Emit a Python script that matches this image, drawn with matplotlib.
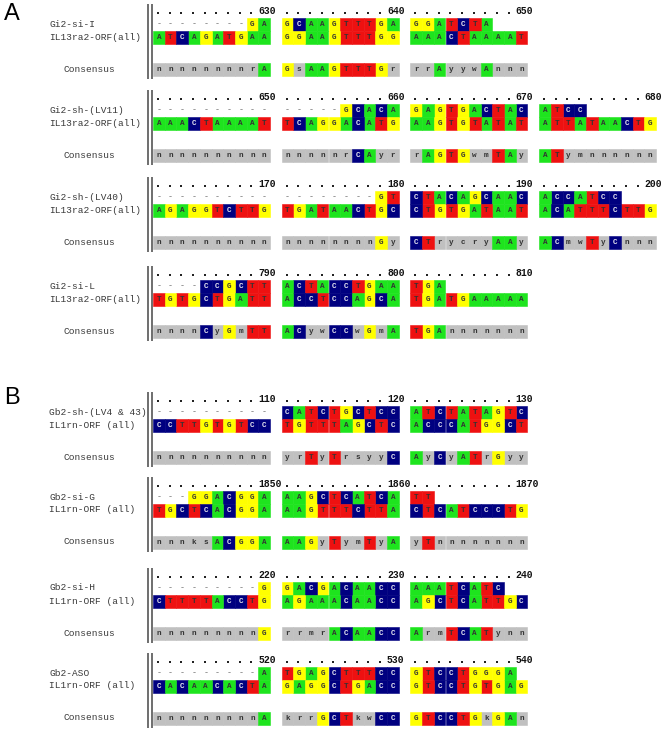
import matplotlib
matplotlib.use("Agg")
import matplotlib.pyplot as plt

# alignment data, groups of 10 columns separated by spaces
top_names = ["Gi2-si-I", "Gi2-sh-(LV11)", "Gi2-sh-(LV40)", "Gi2-si-L",
             "Gb2-sh-(LV4 & 43)", "Gb2-si-G", "Gb2-si-H", "Gb2-ASO"]
ref_names = ["IL13ra2-ORF(all)"] * 4 + ["IL1rn-ORF (all)"] * 4
ruler_ends = [[630, 640, 650], [650, 660, 670, 680], [170, 180, 190, 200], [790, 800, 810],
              [110, 120, 130], [1850, 1860, 1870], [220, 230, 240], [520, 530, 540]]
top_seqs = [
    "--------GA GCAAGTTTGA GGATCTA",
    "---------- -----GCACA GAGTGACTAC ATCC",
    "---------- --------GT CTACAGCAAC ACCATCC",
    "----CCGCTT ACTACCTGAA TGA",
    "---------- CATCTGCTCC ATCTATAGTC",
    "---GGACGGA AAGCTCATCA TT",
    "---------G GACGACAACC AAATCATC",
    "---------A TGAGCTTTCC GTCCTGGGA",
]
ref_seqs = [
    "ATCAGATGAA GGAAGTTTGG AAACTAAAAT",
    "AAACTAAAAT TCAGGACATG AAGTGTATAT ATTATAACTG",
    "AGAGGTCTTG TGATAACTGC CTGTGATAAT ACATTTCTTG",
    "TGTGCTGATT ACCTCCAGCA TGATGAAAAA",
    "CCTTGTGTCC TGTTTAGCTC ACCCATGGCT",
    "TGCTCACGGA AAGTTTCTTA CTCATCCCTG",
    "CTTTTACCTG AGAAACAACC AGCTCATTGC",
    "CACAACACTA GAGGCTGACC GTCCTGTGAG",
]
consensus = [
    "nnnnnnnnrA GsAAGTTTGr rrAyywAnnn",
    "nnnnnnnnnn nnnnnrCAyr rAGTGwmTAy ATymnnnnnn",
    "nnnnnnnnnn nnnnnnnnGy CTrycryAAy ACmwTyCnnn",
    "nnnnCyGmTT ACywCCwGmA TGAnnnnnnn",
    "nnnnnnnnnn yrTyTrsyyC AyCyATrGyy",
    "nnnksACGGA AAGyTymTyA yTnnnnnnnn",
    "nnnnnnnnnG rrmrACAACC ArmTCATynn",
    "nnnnnnnnnA krrGCTkwCC GTCCTGkGAn",
]
panel_letters = ["A", "B"]

base_colors = {"A": "#1ee41e", "C": "#000080", "G": "#ffff00", "T": "#ee1111"}
gray = "#c0c0c0"

W, H = 661, 735
X0, CW, ROW = 153, 11.7, 13
block_y = [12, 98, 185, 274, 400, 485, 576, 661]
panel_y = [14, 398]

fig = plt.figure(figsize=(W / 100, H / 100), dpi=100)
ax = fig.add_axes([0, 0, 1, 1])
ax.set_xlim(0, W)
ax.set_ylim(H, 0)
ax.axis("off")

mono = "Liberation Mono"

for letter, py in zip(panel_letters, panel_y):
    ax.text(4, py, letter, fontsize=17, family="Liberation Sans", va="center", ha="left")

for b in range(len(top_seqs)):
    y0 = block_y[b]
    # double bar at the left of each block
    for lx in (148, 151.5):
        ax.plot([lx, lx], [y0 - 8, y0 + 67], color="#555555", lw=1.2, solid_capstyle="butt")

    ax.text(49, y0 + 12, top_names[b], family=mono, fontsize=6.8, color="#3a3a3a", va="center")
    ax.text(49, y0 + 25, ref_names[b], family=mono, fontsize=6.8, color="#3a3a3a", va="center")
    ax.text(63, y0 + 57, "Consensus", family=mono, fontsize=6.8, color="#3a3a3a", va="center")

    # ruler
    dots_x = []
    for g, end in enumerate(ruler_ends[b]):
        for i in range(9):
            dots_x.append(X0 + (g * 11 + i) * CW + CW / 2 - 1)
        ax.text(X0 + (g * 11 + 9) * CW, y0 - 1, str(end), family=mono, fontsize=7,
                weight="bold", va="center", ha="left", color="#111111")
    ax.scatter(dots_x, [y0 + 1] * len(dots_x), s=1.5, marker="s", color="#222222", linewidths=0)

    rows = [(top_seqs[b], y0 + 12), (ref_seqs[b], y0 + 25), (consensus[b], y0 + 57)]
    for seq, yc in rows:
        cells = {}
        for g, grp in enumerate(seq.split(" ")):
            for i, ch in enumerate(grp):
                xl = X0 + (g * 11 + i) * CW
                if ch == "-":
                    ax.text(xl + CW / 2, yc, "-", family=mono, fontsize=6, color="#555555",
                            va="center", ha="center")
                    continue
                fc = base_colors.get(ch, gray)
                cells.setdefault(fc, []).append(xl)
                tc = "#e8e8f0" if fc == "#000080" else "#333333"
                ax.text(xl + CW / 2, yc + 0.5, ch, family=mono, fontsize=5.5, color=tc,
                        va="center", ha="center", weight="bold")
        for fc, xs in cells.items():
            ax.bar(xs, ROW, width=CW, bottom=yc - ROW / 2, align="edge", color=fc,
                   edgecolor=fc, linewidth=0.4, zorder=0)

fig.savefig("out.png", dpi=100)
